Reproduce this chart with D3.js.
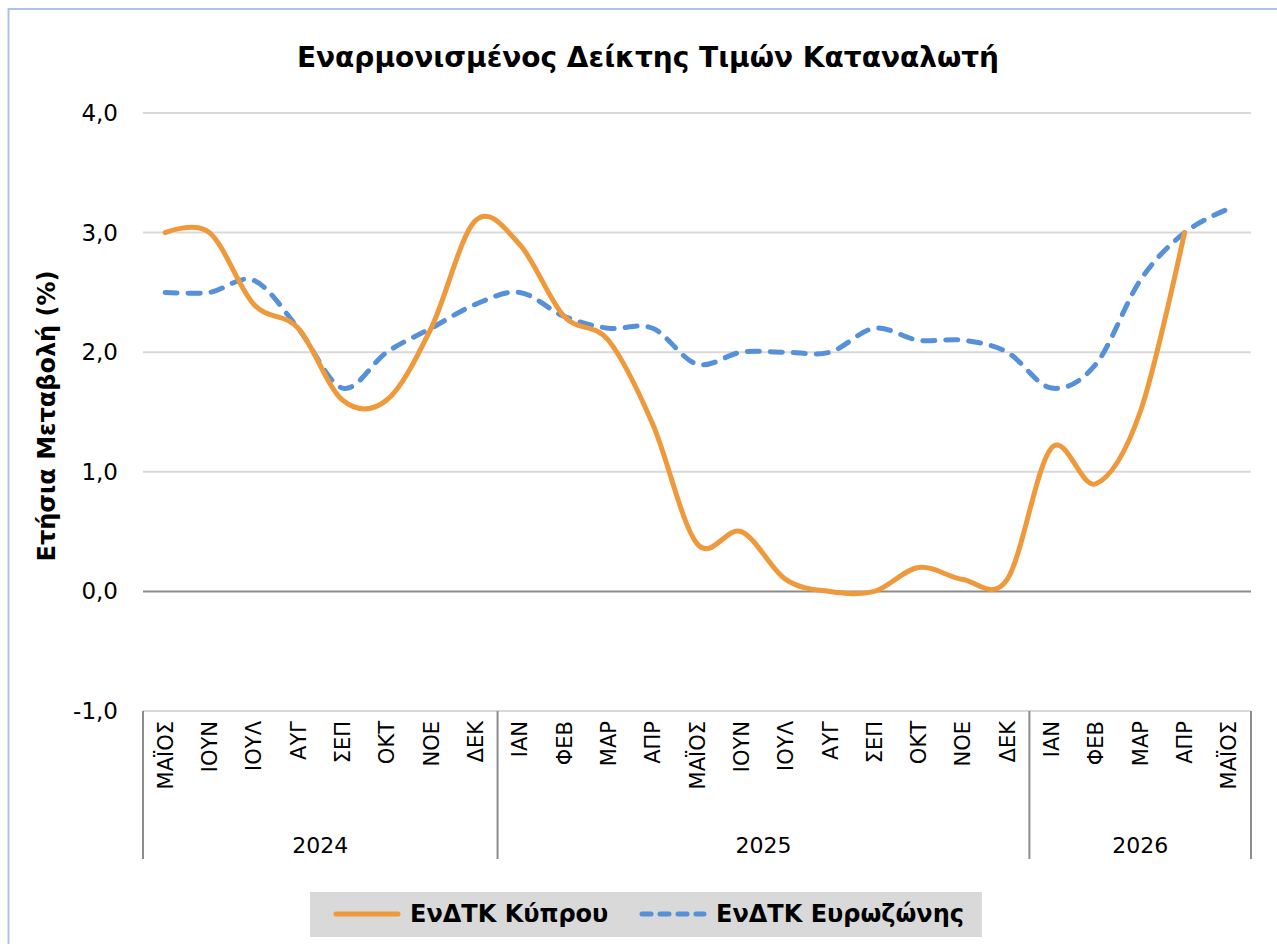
<!DOCTYPE html>
<html>
<head>
<meta charset="utf-8">
<script src="https://cdn.jsdelivr.net/npm/d3@7"></script>
<style>
  body { margin: 0; background: #fff; }
  text { font-family: "DejaVu Sans", Verdana, sans-serif; fill: #000; }
</style>
</head>
<body>
<svg width="1277" height="944"></svg>
<script>
var width = 1277,
  height = 944;

// data
var months = ["ΜΑΪΟΣ", "ΙΟΥΝ", "ΙΟΥΛ", "ΑΥΓ", "ΣΕΠ", "ΟΚΤ", "ΝΟΕ", "ΔΕΚ",
  "ΙΑΝ", "ΦΕΒ", "ΜΑΡ", "ΑΠΡ", "ΜΑΪΟΣ", "ΙΟΥΝ", "ΙΟΥΛ", "ΑΥΓ", "ΣΕΠ", "ΟΚΤ", "ΝΟΕ", "ΔΕΚ",
  "ΙΑΝ", "ΦΕΒ", "ΜΑΡ", "ΑΠΡ", "ΜΑΪΟΣ"];
var years = ["2024", "2025", "2026"];
var yearCounts = [8, 12, 5];
var cyprus = [3.0, 3.0, 2.4, 2.2, 1.6, 1.6, 2.2, 3.1,
  2.9, 2.3, 2.1, 1.4, 0.4, 0.5, 0.1, 0.0, 0.0, 0.2, 0.1, 0.1,
  1.2, 0.9, 1.5, 3.0, null];
var euro = [2.5, 2.5, 2.6, 2.2, 1.7, 2.0, 2.2, 2.4,
  2.5, 2.3, 2.2, 2.2, 1.9, 2.0, 2.0, 2.0, 2.2, 2.1, 2.1, 2.0,
  1.7, 1.9, 2.6, 3.0, 3.2];
var yTicks = [-1, 0, 1, 2, 3, 4];

var margin = { left: 143, right: 26, top: 113, bottom: 233 };

var svg = d3.select("svg")
  .attr("width", width)
  .attr("height", height);

// chart border
svg.append("rect")
  .attr("x", 8.5).attr("y", 9)
  .attr("width", width + 20).attr("height", height + 20)
  .attr("fill", "none")
  .attr("stroke", "#a9c4ea")
  .attr("stroke-width", 2);

var x = d3.scaleBand()
  .domain(d3.range(months.length))
  .range([margin.left, width - margin.right]);

var y = d3.scaleLinear()
  .domain([-1, 4])
  .range([height - margin.bottom, margin.top]);

// title
svg.append("text")
  .attr("x", 648).attr("y", 67)
  .attr("text-anchor", "middle")
  .style("font-size", "28px")
  .style("font-weight", "bold")
  .text("Εναρμονισμένος Δείκτης Τιμών Καταναλωτή");

// gridlines
svg.append("g")
  .selectAll("line")
  .data(yTicks)
  .enter().append("line")
  .attr("x1", x.range()[0]).attr("x2", x.range()[1])
  .attr("y1", d => y(d)).attr("y2", d => y(d))
  .attr("stroke", d => d == 0 ? "#8c8c8c" : "#d9d9d9")
  .attr("stroke-width", 2);

// y tick labels
svg.append("g")
  .selectAll("text")
  .data(yTicks)
  .enter().append("text")
  .attr("x", 118)
  .attr("y", d => y(d))
  .attr("dy", "0.35em")
  .attr("text-anchor", "end")
  .style("font-size", "23px")
  .text(d => d.toFixed(1).replace(".", ","));

// y axis title
svg.append("text")
  .attr("transform", "translate(55," + (y(1.5) + 4) + ") rotate(-90)")
  .attr("text-anchor", "middle")
  .style("font-size", "24px")
  .style("font-weight", "bold")
  .text("Ετήσια Μεταβολή (%)");

// month labels
svg.append("g")
  .selectAll("text")
  .data(months)
  .enter().append("text")
  .attr("transform", (d, i) => "translate(" + (x(i) + x.bandwidth() / 2) + "," + (y(-1) + 10) + ") rotate(-90)")
  .attr("dy", "0.36em")
  .attr("text-anchor", "end")
  .style("font-size", "21px")
  .text(d => d);

// year groups
var bounds = [0];
yearCounts.forEach((c, i) => bounds.push(bounds[i] + c));
var xEdge = i => i >= months.length ? x.range()[1] : x(i);

svg.append("g")
  .selectAll("line")
  .data(bounds)
  .enter().append("line")
  .attr("x1", d => xEdge(d)).attr("x2", d => xEdge(d))
  .attr("y1", y(-1)).attr("y2", 859)
  .attr("stroke", "#8c8c8c")
  .attr("stroke-width", 2);

svg.append("g")
  .selectAll("text")
  .data(years)
  .enter().append("text")
  .attr("x", (d, i) => (xEdge(bounds[i]) + xEdge(bounds[i + 1])) / 2)
  .attr("y", 853)
  .attr("text-anchor", "middle")
  .style("font-size", "22px")
  .text(d => d);

// lines
var line = d3.line()
  .defined(d => d != null)
  .x((d, i) => x(i) + x.bandwidth() / 2)
  .y(d => y(d))
  .curve(d3.curveCardinal.tension(0));

svg.append("path")
  .datum(euro)
  .attr("d", line)
  .attr("fill", "none")
  .attr("stroke", "#5590d9")
  .attr("stroke-width", 5)
  .attr("stroke-linecap", "round")
  .attr("stroke-dasharray", "12,11");

svg.append("path")
  .datum(cyprus)
  .attr("d", line)
  .attr("fill", "none")
  .attr("stroke", "#ee993b")
  .attr("stroke-width", 5)
  .attr("stroke-linecap", "round");

// legend
var legend = svg.append("g");
legend.append("rect")
  .attr("x", 310).attr("y", 892)
  .attr("width", 672).attr("height", 45)
  .attr("fill", "#d9d9d9");

var legendItems = [
  { name: "ΕνΔΤΚ Κύπρου", color: "#ee993b", dash: null, x: 336 },
  { name: "ΕνΔΤΚ Ευρωζώνης", color: "#5590d9", dash: "9,9", x: 642 }
];
legendItems.forEach(d => {
  legend.append("line")
    .attr("x1", d.x).attr("x2", d.x + 62)
    .attr("y1", 914).attr("y2", 914)
    .attr("stroke", d.color)
    .attr("stroke-width", 5)
    .attr("stroke-linecap", "round")
    .attr("stroke-dasharray", d.dash);
  legend.append("text")
    .attr("x", d.x + 74).attr("y", 914)
    .attr("dy", "0.35em")
    .style("font-size", "24px")
    .style("font-weight", "bold")
    .text(d.name);
});
</script>
</body>
</html>
